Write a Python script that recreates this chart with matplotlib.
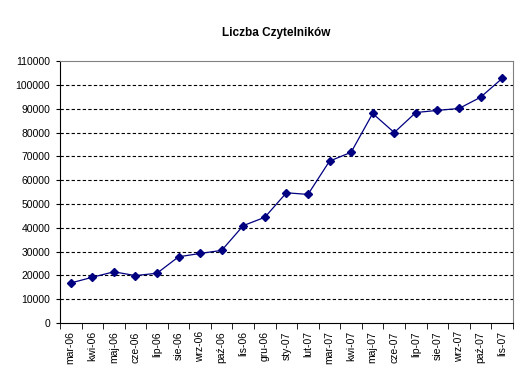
import matplotlib.pyplot as plt
import numpy as np

months = ["mar-06", "kwi-06", "maj-06", "cze-06", "lip-06", "sie-06", "wrz-06",
          "paź-06", "lis-06", "gru-06", "sty-07", "lut-07", "mar-07", "kwi-07",
          "maj-07", "cze-07", "lip-07", "sie-07", "wrz-07", "paź-07", "lis-07"]
readers = [16800, 19200, 21500, 19900, 20900, 27800, 29200, 30500, 40900, 44400,
           54700, 54000, 68000, 71700, 88000, 80000, 88400, 89300, 90100, 94800, 102700]

plt.rcParams['font.family'] = ['Liberation Sans', 'DejaVu Sans']

fig = plt.figure(figsize=(5.26, 3.82), dpi=100)
ax = fig.add_axes([0.114, 0.1545, 0.861, 0.6855])

x = np.arange(len(months))
ax.plot(x, readers, color='#000080', linewidth=0.9, marker='D', markersize=4.5,
        markerfacecolor='#000080', markeredgecolor='#000080')

ax.set_ylim(0, 110000)
ax.set_yticks(np.arange(0, 110001, 10000))
ax.tick_params(axis='y', labelsize=7.5, length=3, direction='out', pad=4)
for yv in range(10000, 110000, 10000):
    ax.axhline(yv, color='black', linestyle=(0, (3, 2)), linewidth=0.8, zorder=0)

ax.set_xlim(-0.5, len(months) - 0.5)
ax.set_xticks(x)
ax.set_xticklabels(months, rotation=90, fontsize=7.5)
ax.set_xticks(np.arange(-0.5, len(months), 1), minor=True)
ax.tick_params(axis='x', which='major', length=0, pad=6)
ax.tick_params(axis='x', which='minor', length=4, direction='out')

for side in ['top', 'right']:
    ax.spines[side].set_color('#808080')
for side in ['left', 'bottom']:
    ax.spines[side].set_color('black')

fig.text(0.525, 0.913, "Liczba Czytelników", ha='center', va='center',
         fontsize=8.5, fontweight='bold')

fig.savefig('out.png', dpi=100)
